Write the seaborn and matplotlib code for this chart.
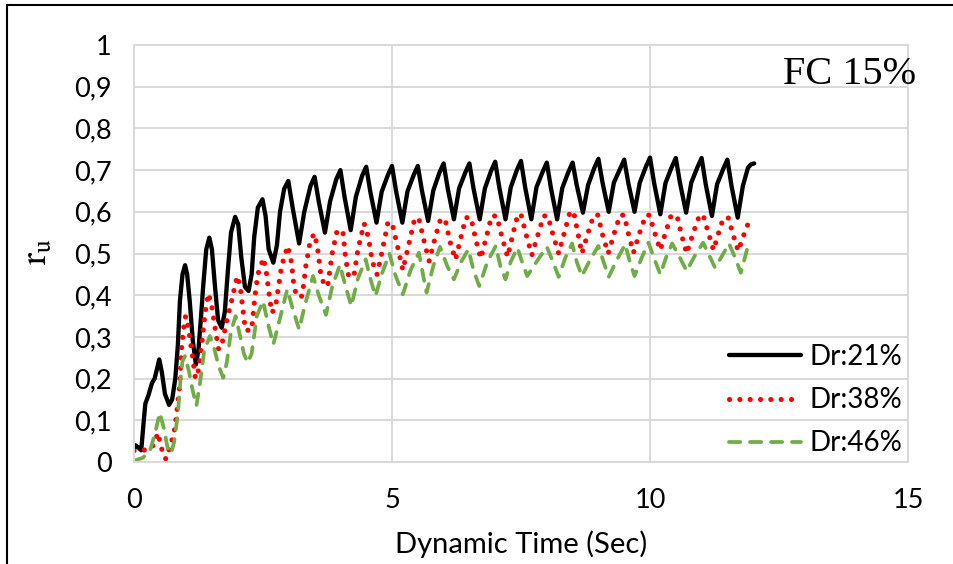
import matplotlib
matplotlib.use("Agg")
import matplotlib.pyplot as plt
from matplotlib.lines import Line2D
import numpy as np
import pandas as pd
import seaborn as sns

# ---------------- data ----------------
series_names = ["Dr:21%", "Dr:38%", "Dr:46%"]

black_t = [0.00, 0.03, 0.08, 0.14, 0.19, 0.22, 0.28, 0.35, 0.40, 0.44, 0.49, 0.54, 0.60, 0.68,
           0.74, 0.80, 0.85, 0.89, 0.94, 0.99, 1.03, 1.08, 1.14, 1.20, 1.25, 1.30, 1.34, 1.40,
           1.46, 1.51, 1.57, 1.63, 1.70, 1.76, 1.82, 1.88, 1.96, 2.02, 2.08, 2.15, 2.22, 2.28,
           2.33, 2.40, 2.49, 2.55, 2.61, 2.70, 2.77, 2.83, 2.91, 2.99,
           3.08, 3.20, 3.30, 3.42, 3.50,
           3.58, 3.70, 3.80, 3.92, 4.00,
           4.08, 4.20, 4.30, 4.42, 4.50,
           4.58, 4.70, 4.80, 4.92, 5.00,
           5.08, 5.20, 5.30, 5.42, 5.50,
           5.58, 5.70, 5.80, 5.92, 6.00,
           6.08, 6.20, 6.30, 6.42, 6.50,
           6.58, 6.70, 6.80, 6.92, 7.00,
           7.08, 7.20, 7.30, 7.42, 7.50,
           7.58, 7.70, 7.80, 7.92, 8.00,
           8.08, 8.20, 8.30, 8.42, 8.50,
           8.58, 8.70, 8.80, 8.92, 9.00,
           9.08, 9.20, 9.30, 9.42, 9.50,
           9.58, 9.70, 9.80, 9.92, 10.00,
           10.08, 10.20, 10.30, 10.42, 10.50,
           10.58, 10.70, 10.80, 10.92, 11.00,
           11.08, 11.20, 11.30, 11.42, 11.50,
           11.58, 11.70, 11.80, 11.90, 11.96, 12.02]
black_v = [0.030, 0.040, 0.035, 0.028, 0.100, 0.140, 0.160, 0.190, 0.200, 0.220, 0.246, 0.215, 0.163, 0.137,
           0.150, 0.200, 0.280, 0.386, 0.450, 0.472, 0.450, 0.386, 0.290, 0.234, 0.270, 0.350, 0.420, 0.510,
           0.538, 0.510, 0.420, 0.340, 0.322, 0.360, 0.460, 0.550, 0.588, 0.570, 0.490, 0.420, 0.410, 0.450,
           0.540, 0.610, 0.630, 0.590, 0.510, 0.478, 0.520, 0.600, 0.655, 0.674,
           0.606, 0.524, 0.600, 0.662, 0.684,
           0.625, 0.550, 0.625, 0.678, 0.700,
           0.636, 0.556, 0.636, 0.686, 0.708,
           0.648, 0.574, 0.648, 0.688, 0.710,
           0.649, 0.574, 0.649, 0.688, 0.710,
           0.651, 0.578, 0.651, 0.694, 0.716,
           0.656, 0.582, 0.656, 0.694, 0.716,
           0.656, 0.582, 0.656, 0.698, 0.720,
           0.658, 0.582, 0.658, 0.700, 0.722,
           0.659, 0.582, 0.659, 0.696, 0.718,
           0.657, 0.582, 0.657, 0.696, 0.718,
           0.664, 0.598, 0.664, 0.705, 0.727,
           0.670, 0.600, 0.670, 0.703, 0.725,
           0.669, 0.600, 0.669, 0.708, 0.730,
           0.669, 0.594, 0.669, 0.707, 0.729,
           0.670, 0.598, 0.670, 0.707, 0.729,
           0.666, 0.590, 0.666, 0.703, 0.725,
           0.662, 0.586, 0.662, 0.706, 0.714, 0.716]

red_t = [0.00, 0.14, 0.31, 0.40, 0.46, 0.52, 0.57, 0.62, 0.68, 0.73, 0.79, 0.83, 0.89, 0.92,
         0.96, 1.00, 1.04, 1.08, 1.12, 1.19, 1.25, 1.32, 1.38, 1.44, 1.50, 1.56, 1.64, 1.70,
         1.80, 1.89, 2.00, 2.06, 2.11, 2.16, 2.28, 2.34, 2.40, 2.51, 2.57, 2.61, 2.67, 2.74,
         2.80, 2.86, 2.98, 3.05, 3.10, 3.16, 3.26, 3.33, 3.41, 3.49, 3.55, 3.62, 3.70, 3.76,
         3.84, 3.94, 4.05, 4.10, 4.16, 4.26, 4.34, 4.46, 4.54, 4.62, 4.71, 4.80, 4.92, 5.00,
         5.12, 5.21, 5.34, 5.44, 5.52,
         5.62, 5.72, 5.84, 5.94, 6.03,
         6.12, 6.23, 6.34, 6.43, 6.53,
         6.62, 6.72, 6.84, 6.93, 7.03,
         7.13, 7.24, 7.35, 7.44, 7.50,
         7.60, 7.71, 7.84, 7.94, 8.02,
         8.12, 8.23, 8.35, 8.45, 8.52,
         8.60, 8.68, 8.80, 8.91, 8.99,
         9.08, 9.19, 9.31, 9.42, 9.50,
         9.58, 9.68, 9.80, 9.92, 9.99,
         10.09, 10.20, 10.30, 10.40, 10.52,
         10.61, 10.71, 10.84, 10.96, 11.03,
         11.13, 11.23, 11.33, 11.42, 11.52,
         11.61, 11.71, 11.85, 11.93]
red_v = [0.027, 0.028, 0.030, 0.045, 0.070, 0.040, 0.015, 0.007, 0.030, 0.050, 0.080, 0.120, 0.190, 0.270,
         0.320, 0.350, 0.330, 0.300, 0.266, 0.200, 0.220, 0.290, 0.360, 0.404, 0.380, 0.330, 0.270, 0.280,
         0.340, 0.386, 0.446, 0.420, 0.366, 0.316, 0.316, 0.394, 0.450, 0.489, 0.450, 0.410, 0.358, 0.370,
         0.420, 0.470, 0.518, 0.480, 0.420, 0.396, 0.398, 0.470, 0.526, 0.548, 0.520, 0.450, 0.420, 0.428,
         0.500, 0.557, 0.550, 0.490, 0.445, 0.445, 0.510, 0.572, 0.540, 0.480, 0.450, 0.500, 0.574, 0.574,
         0.510, 0.460, 0.530, 0.584, 0.584,
         0.530, 0.482, 0.540, 0.582, 0.582,
         0.530, 0.485, 0.540, 0.586, 0.586,
         0.535, 0.488, 0.545, 0.590, 0.590,
         0.540, 0.492, 0.550, 0.594, 0.594,
         0.545, 0.496, 0.550, 0.590, 0.590,
         0.545, 0.500, 0.555, 0.600, 0.600,
         0.550, 0.500, 0.550, 0.592, 0.592,
         0.545, 0.500, 0.550, 0.592, 0.592,
         0.548, 0.502, 0.550, 0.592, 0.592,
         0.550, 0.508, 0.550, 0.588, 0.592,
         0.545, 0.500, 0.550, 0.592, 0.592,
         0.550, 0.508, 0.550, 0.585, 0.585,
         0.545, 0.506, 0.556, 0.580]

green_t = [0.00, 0.17, 0.31, 0.41, 0.50, 0.58, 0.65, 0.72, 0.78, 0.85, 0.90, 0.94, 0.99, 1.06,
           1.14, 1.21, 1.28, 1.36, 1.47, 1.56, 1.64, 1.73, 1.80, 1.88, 1.97, 2.06, 2.13, 2.20,
           2.28, 2.38, 2.50, 2.60, 2.70, 2.82, 2.97, 3.07, 3.20, 3.32, 3.47, 3.58, 3.72, 3.84,
           3.99, 4.08, 4.21, 4.34, 4.49, 4.58, 4.68, 4.80, 4.95, 5.06, 5.21, 5.36, 5.52, 5.60,
           5.67, 5.80, 5.93, 6.07, 6.20, 6.34, 6.48, 6.58, 6.69, 6.85, 7.01, 7.10, 7.20, 7.30,
           7.43, 7.52, 7.62, 7.80, 8.00, 8.12, 8.23, 8.36, 8.49, 8.58, 8.68, 8.84, 9.00, 9.10,
           9.20, 9.36, 9.52, 9.61, 9.70, 9.84, 9.97, 10.09, 10.20, 10.31, 10.43, 10.58, 10.71,
           10.87, 11.03, 11.15, 11.26, 11.40, 11.53, 11.65, 11.76, 11.89]
green_v = [0.003, 0.010, 0.027, 0.070, 0.118, 0.080, 0.035, 0.020, 0.050, 0.115, 0.195, 0.242, 0.254, 0.220,
           0.170, 0.135, 0.190, 0.266, 0.302, 0.270, 0.230, 0.202, 0.240, 0.314, 0.350, 0.300, 0.260, 0.238,
           0.260, 0.350, 0.386, 0.330, 0.282, 0.340, 0.414, 0.370, 0.318, 0.380, 0.446, 0.400, 0.353, 0.420,
           0.473, 0.430, 0.374, 0.440, 0.486, 0.440, 0.398, 0.450, 0.500, 0.450, 0.402, 0.460, 0.502, 0.450,
           0.406, 0.470, 0.516, 0.470, 0.438, 0.480, 0.510, 0.460, 0.422, 0.480, 0.518, 0.470, 0.438, 0.480,
           0.514, 0.480, 0.446, 0.480, 0.516, 0.480, 0.444, 0.490, 0.524, 0.480, 0.446, 0.485, 0.518, 0.480,
           0.444, 0.485, 0.522, 0.480, 0.446, 0.490, 0.526, 0.485, 0.450, 0.490, 0.524, 0.490, 0.458,
           0.495, 0.526, 0.495, 0.466, 0.495, 0.524, 0.490, 0.454, 0.514]

x_ticks = [0, 5, 10, 15]
x_tick_labels = ["0", "5", "10", "15"]
y_ticks = [0.0, 0.1, 0.2, 0.3, 0.4, 0.5, 0.6, 0.7, 0.8, 0.9, 1.0]
y_tick_labels = ["0", "0,1", "0,2", "0,3", "0,4", "0,5", "0,6", "0,7", "0,8", "0,9", "1"]
x_label = "Dynamic Time (Sec)"
y_label = r"$\mathrm{r_u}$"
panel_title = "FC 15%"

# ---------------- styling ----------------
sns.set_theme(style="white")
plt.rcParams["font.family"] = ["Lato", "DejaVu Sans"]
plt.rcParams["mathtext.fontset"] = "stix"

W, H = 954, 564
fig = plt.figure(figsize=(W / 100, H / 100), dpi=100)
ax = fig.add_axes([134 / W, 102 / H, 774 / W, 417 / H])

grid_c = "#d9d9d9"
ax.set_xlim(0, 15)
ax.set_ylim(0, 1)
ax.set_xticks(x_ticks)
ax.set_xticklabels(x_tick_labels)
ax.set_yticks(y_ticks)
ax.set_yticklabels(y_tick_labels)
ax.grid(True, color=grid_c, lw=1.4)
for s in ax.spines.values():
    s.set_color(grid_c)
    s.set_linewidth(1.4)
ax.tick_params(axis="both", length=0, labelsize=19.5, colors="black")
ax.tick_params(axis="x", pad=19)
ax.tick_params(axis="y", pad=16)

df_b = pd.DataFrame({"t": black_t, "v": black_v})
df_r = pd.DataFrame({"t": red_t, "v": red_v})
df_g = pd.DataFrame({"t": green_t, "v": green_v})

sns.lineplot(data=df_b, x="t", y="v", ax=ax, color="black", lw=3.1, sort=False,
             estimator=None, label=series_names[0], solid_joinstyle="round")
sns.lineplot(data=df_r, x="t", y="v", ax=ax, color="#ff0000", lw=3.7, sort=False,
             estimator=None, label=series_names[1], linestyle=(0, (0.01, 2.0)),
             dash_capstyle="round")
sns.lineplot(data=df_g, x="t", y="v", ax=ax, color="#70ad47", lw=2.7, sort=False,
             estimator=None, label=series_names[2], linestyle=(0, (3.0, 2.6)),
             dash_capstyle="round")

ax.set_xlabel(x_label, fontsize=21, color="black", labelpad=12)
ax.set_ylabel("")
fig.text(38 / W, 1 - 252 / H, y_label, fontsize=26, rotation=90, ha="center", va="center",
         color="black")

leg = ax.legend(loc="lower right", bbox_to_anchor=(1.0, 0.0), frameon=False, fontsize=20,
                handlelength=2.6, handletextpad=0.3, labelspacing=0.62, borderaxespad=0.0,
                borderpad=0.2)
for txt in leg.get_texts():
    txt.set_color("black")

fig.text(916 / W, 1 - 74 / H, panel_title, fontsize=29, ha="right", va="center",
         family=["Liberation Serif", "DejaVu Serif"], color="black")

# outer chart frame (top and left edges visible)
fig.add_artist(Line2D([7 / W, 7 / W], [-0.01, 1 - 5 / H], transform=fig.transFigure,
                      color="black", lw=1.5))
fig.add_artist(Line2D([7 / W, 1.01], [1 - 5 / H, 1 - 5 / H], transform=fig.transFigure,
                      color="black", lw=1.5))

fig.savefig("out.png", dpi=100)
